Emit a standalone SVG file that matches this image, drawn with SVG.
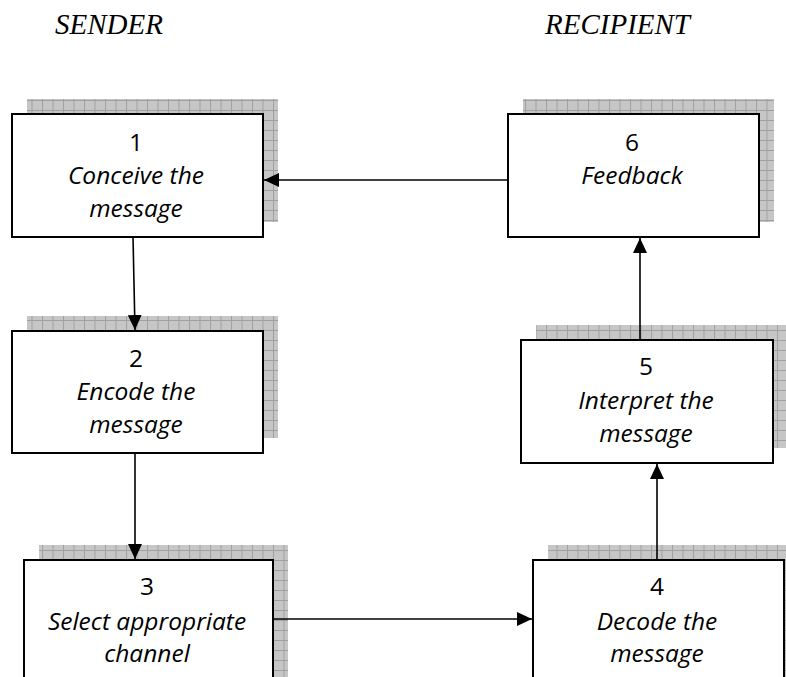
<svg xmlns="http://www.w3.org/2000/svg" width="786" height="677" viewBox="0 0 786 677">
<defs>
<pattern id="grid" patternUnits="userSpaceOnUse" width="10.5" height="10" x="0" y="0">
<rect width="10.5" height="10" fill="#c6c6c6"/>
<path d="M0 0.5H10.5M0.5 0V10" stroke="#a0a0a0" stroke-width="1" fill="none"/>
</pattern>
<marker id="arr" markerUnits="userSpaceOnUse" markerWidth="16" markerHeight="14" refX="15" refY="7" orient="auto">
<path d="M0 0L15 7L0 14Z" fill="#000"/>
</marker>
<style>
.shadow{fill:url(#grid)}
.box{fill:#fff;stroke:#000;stroke-width:2}
.num{font-family:"Open Sans","Liberation Sans",sans-serif;font-size:24.5px;text-anchor:middle;fill:#000}
.lbl{font-family:"Open Sans","Liberation Sans",sans-serif;font-size:24.5px;font-style:italic;text-anchor:middle;fill:#000}
.hdr{font-family:"Liberation Serif",serif;font-size:29px;font-style:italic;fill:#000}
.conn{stroke:#000;stroke-width:1.6;fill:none}
</style>
</defs>
<rect width="786" height="677" fill="#fff"/>
<text class="hdr" x="55" y="34">SENDER</text>
<text class="hdr" x="545" y="34">RECIPIENT</text>

<g id="node1">
<rect class="shadow" x="27" y="99" width="251" height="123"/>
<rect class="box" x="12" y="114" width="251" height="123"/>
<text class="num" x="136" y="151">1</text>
<text class="lbl" x="136" y="184">Conceive the</text>
<text class="lbl" x="136" y="217">message</text>
</g>
<g id="node6">
<rect class="shadow" x="523" y="99" width="251" height="123"/>
<rect class="box" x="508" y="114" width="251" height="123"/>
<text class="num" x="632" y="151">6</text>
<text class="lbl" x="632" y="184">Feedback</text>
</g>
<g id="node2">
<rect class="shadow" x="27" y="316" width="251" height="122"/>
<rect class="box" x="12" y="331" width="251" height="122"/>
<text class="num" x="136" y="367">2</text>
<text class="lbl" x="136" y="400">Encode the</text>
<text class="lbl" x="136" y="433">message</text>
</g>
<g id="node5">
<rect class="shadow" x="536" y="325" width="252" height="123"/>
<rect class="box" x="521" y="340" width="252" height="123"/>
<text class="num" x="646" y="375">5</text>
<text class="lbl" x="646" y="409">Interpret the</text>
<text class="lbl" x="646" y="442">message</text>
</g>
<g id="node3">
<rect class="shadow" x="39" y="545" width="249" height="140"/>
<rect class="box" x="24" y="560" width="249" height="140"/>
<text class="num" x="147" y="595">3</text>
<text class="lbl" x="147" y="630">Select appropriate</text>
<text class="lbl" x="147" y="662">channel</text>
</g>
<g id="node4">
<rect class="shadow" x="548" y="545" width="251" height="140"/>
<rect class="box" x="533" y="560" width="251" height="140"/>
<text class="num" x="657" y="595">4</text>
<text class="lbl" x="657" y="630">Decode the</text>
<text class="lbl" x="657" y="662">message</text>
</g>

<g id="connectors">
<line class="conn" x1="508" y1="180" x2="264" y2="180" marker-end="url(#arr)"/>
<line class="conn" x1="133" y1="237" x2="135" y2="330" marker-end="url(#arr)"/>
<line class="conn" x1="135" y1="453" x2="135" y2="559" marker-end="url(#arr)"/>
<line class="conn" x1="273" y1="619" x2="532" y2="619" marker-end="url(#arr)"/>
<line class="conn" x1="657" y1="560" x2="657" y2="464" marker-end="url(#arr)"/>
<line class="conn" x1="640" y1="340" x2="640" y2="238" marker-end="url(#arr)"/>
</g>
</svg>
